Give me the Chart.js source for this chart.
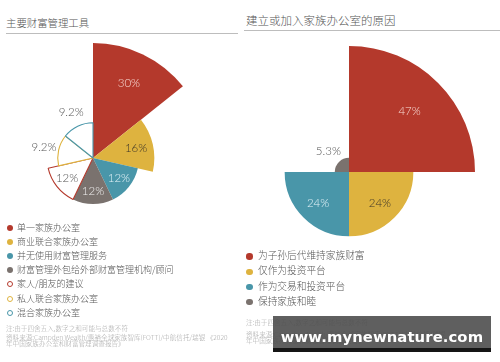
<!DOCTYPE html>
<html>
<head>
<meta charset="utf-8">
<script src="https://cdn.jsdelivr.net/npm/chart.js@4"></script>
<style>
  html, body { margin:0; padding:0; background:#fff; width:500px; height:362px; overflow:hidden; }
  body { position:relative; font-family:"Noto Sans CJK SC", sans-serif; }
  .title { position:absolute; color:#555; font-weight:300; white-space:nowrap; line-height:1; }
  .rule { position:absolute; height:1px; background:#bdbdbd; }
  canvas { position:absolute; }
  .legend { position:absolute; color:#555; font-weight:300; }
  .legend .item { position:absolute; left:0; white-space:nowrap; line-height:1; }
  .legend .dot { position:absolute; border-radius:50%; box-sizing:border-box; }
  .note { position:absolute; color:#a8a8a8; font-size:6.6px; line-height:5.6px; white-space:nowrap; font-weight:300; }
  .wm { position:absolute; left:273px; top:316px; width:218px; height:32px; background:rgba(78,78,78,0.9);
        border-bottom:4px solid #151515; color:#fff; font:bold 14.8px "DejaVu Sans", sans-serif;
        text-align:center; line-height:42px; overflow:hidden; letter-spacing:0.1px; }
</style>
</head>
<body>
<div class="title" style="left:6px;top:18px;font-size:10.4px;">主要财富管理工具</div>
<div class="rule" style="left:6px;top:33px;width:232px;"></div>
<div class="title" style="left:246px;top:15px;font-size:11.5px;">建立或加入家族办公室的原因</div>
<div class="rule" style="left:244px;top:30px;width:256px;"></div>

<canvas id="c1" width="230" height="230" style="left:-22px;top:43px;width:230px;height:230px;"></canvas>
<canvas id="c2" width="252" height="252" style="left:223px;top:46px;width:252px;height:252px;"></canvas>

<div id="leg1" class="legend" style="left:0;top:0;"></div>
<div id="leg2" class="legend" style="left:0;top:0;"></div>

<div class="note" style="left:6px;top:326px;">注:由于四舍五入,数字之和可能与总数不符</div>
<div class="note" style="left:6px;top:335px;">资料来源:Campden Wealth/惠裕全球家族智库(FOTT)/中航信托/瑞银 《2020<br>年中国家族办公室和财富管理调查报告》</div>
<div class="note" style="left:246px;top:320px;">注:由于四舍五入,数字之和可能与总数不符</div>
<div class="note" style="left:246px;top:332px;">资料来源:Campden Wealth/惠裕全球家族智库(FOTT)/中航信托/瑞银 《2020<br>年中国家族办公室和财富管理调查报告》</div>

<div class="wm">www.mynewnature.com</div>

<script>
// ---- data ----
const toolCategories = ['单一家族办公室', '商业联合家族办公室', '并无使用财富管理服务', '财富管理外包给外部财富管理机构/顾问', '家人/朋友的建议', '私人联合家族办公室', '混合家族办公室'];
const toolValues = [30, 16, 12, 12, 12, 9.2, 9.2];
const toolLabels = ['30%', '16%', '12%', '12%', '12%', '9.2%', '9.2%'];

const reasonCategories = ['为子孙后代维持家族财富', '仅作为投资平台', '作为交易和投资平台', '保持家族和睦'];
const reasonValues = [47, 24, 24, 5.3];
const reasonLabels = ['47%', '24%', '24%', '5.3%'];

// ---- styles ----
const RED = 'rgb(180,57,44)', YEL = 'rgb(222,179,63)', TEAL = 'rgb(73,150,169)', GRAY = 'rgb(122,114,110)';
const toolColors = [RED, YEL, TEAL, GRAY, RED, YEL, TEAL];
const toolFilled = [true, true, true, true, false, false, false];
const toolLabelColors = ['rgba(255,235,230,0.9)', '#3d3528', 'rgba(235,248,252,0.95)', 'rgba(245,245,245,0.95)', '#555', '#555', '#555'];
const reasonColors = [RED, YEL, TEAL, GRAY];
const reasonFilled = [true, true, true, true];
const reasonLabelColors = ['rgba(255,235,230,0.9)', '#3d3528', 'rgba(235,248,252,0.95)', '#555'];

const labelPlugin = {
  id: 'sliceLabels',
  afterDatasetsDraw(chart, args, opts) {
    const ctx = chart.ctx;
    const meta = chart.getDatasetMeta(0);
    ctx.save();
    ctx.font = '300 11.5px Lato, "Open Sans", sans-serif';
    ctx.textAlign = 'center';
    ctx.textBaseline = 'middle';
    meta.data.forEach((arc, i) => {
      const p = arc.getProps(['x', 'y', 'startAngle', 'endAngle', 'outerRadius'], true);
      const mid = (p.startAngle + p.endAngle) / 2;
      const r = p.outerRadius;
      const d = r < 40 ? r + 15 : r * opts.inner;
      ctx.fillStyle = opts.colors[i];
      ctx.fillText(opts.texts[i], p.x + Math.cos(mid) * d, p.y + Math.sin(mid) * d);
    });
    ctx.restore();
  }
};

function makeChart(id, cats, vals, texts, colors, filled, labelColors, max, inner) {
  new Chart(document.getElementById(id), {
    type: 'polarArea',
    data: {
      labels: cats,
      datasets: [{
        data: vals,
        backgroundColor: colors.map((c, i) => filled[i] ? c : '#ffffff'),
        borderColor: colors,
        borderWidth: filled.map(f => f ? 0 : 1.1)
      }]
    },
    options: {
      responsive: false,
      animation: false,
      events: [],
      layout: { padding: 0 },
      plugins: {
        legend: { display: false },
        tooltip: { enabled: false },
        sliceLabels: { texts: texts, colors: labelColors, inner: inner }
      },
      scales: { r: { display: false, min: 0, max: max, startAngle: 0 } }
    },
    plugins: [labelPlugin]
  });
}

makeChart('c1', toolCategories, toolValues, toolLabels, toolColors, toolFilled, toolLabelColors, 30, 0.72);
makeChart('c2', reasonCategories, reasonValues, reasonLabels, reasonColors, reasonFilled, reasonLabelColors, 47, 0.68);

function buildLegend(elId, cats, colors, filled, x, y0, step, fontSize, dotR, textX) {
  const el = document.getElementById(elId);
  cats.forEach((c, i) => {
    const cy = y0 + i * step;
    const dot = document.createElement('div');
    dot.className = 'dot';
    dot.style.left = (x - dotR) + 'px';
    dot.style.top = (cy - dotR) + 'px';
    dot.style.width = dot.style.height = (dotR * 2) + 'px';
    if (filled[i]) dot.style.background = colors[i];
    else dot.style.border = '1.3px solid ' + colors[i];
    el.appendChild(dot);
    const t = document.createElement('div');
    t.className = 'item';
    t.style.left = textX + 'px';
    t.style.top = (cy - fontSize * 0.55) + 'px';
    t.style.fontSize = fontSize + 'px';
    t.textContent = c;
    el.appendChild(t);
  });
}
buildLegend('leg1', toolCategories, toolColors, toolFilled, 9.5, 228, 14.1, 9, 3, 17);
buildLegend('leg2', reasonCategories, reasonColors, reasonFilled, 249.5, 256.5, 15.2, 9.7, 3.2, 258);
</script>
</body>
</html>
